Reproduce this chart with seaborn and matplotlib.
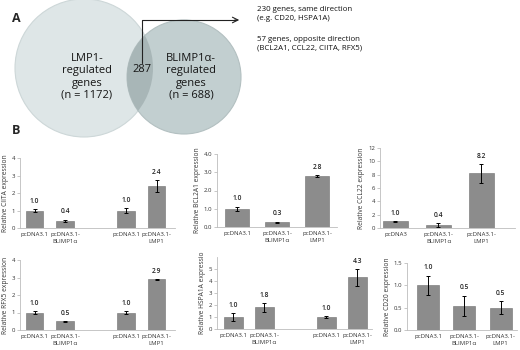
import numpy as np
import pandas as pd
import seaborn as sns
import matplotlib.pyplot as plt
from matplotlib.patches import Circle

sns.set_style("ticks")
plt.rcParams['font.family'] = ['Open Sans', 'DejaVu Sans']

# panel A: Venn counts
venn_left = "LMP1-\nregulated\ngenes\n(n = 1172)"
venn_right = "BLIMP1α-\nregulated\ngenes\n(n = 688)"
venn_overlap = "287"
note_same = "230 genes, same direction\n(e.g. CD20, HSPA1A)"
note_opposite = "57 genes, opposite direction\n(BCL2A1, CCL22, CIITA, RFX5)"

# panel B: relative expression (mean, error)
four_labels = ["pcDNA3.1", "pcDNA3.1-\nBLIMP1α", "", "pcDNA3.1", "pcDNA3.1-\nLMP1"]
three_labels = ["pcDNA3.1", "pcDNA3.1-\nBLIMP1α", "pcDNA3.1-\nLMP1"]
ccl22_labels = ["pcDNA3", "pcDNA3.1-\nBLIMP1α", "pcDNA3.1-\nLMP1"]

ciita_values = [1.0, 0.4, np.nan, 1.0, 2.4]
ciita_errors = [0.1, 0.08, 0, 0.12, 0.35]
bcl2a1_values = [1.0, 0.27, 2.8]
bcl2a1_errors = [0.12, 0.03, 0.05]
ccl22_values = [1.0, 0.4, 8.2]
ccl22_errors = [0.05, 0.3, 1.4]
rfx5_values = [1.0, 0.5, np.nan, 1.0, 2.9]
rfx5_errors = [0.1, 0.03, 0, 0.1, 0.03]
hspa1a_values = [1.0, 1.8, np.nan, 1.0, 4.3]
hspa1a_errors = [0.3, 0.35, 0, 0.05, 0.7]
cd20_values = [1.0, 0.54, 0.5]
cd20_errors = [0.22, 0.23, 0.14]

W, H = 520, 350
fig = plt.figure(figsize=(W / 100, H / 100), dpi=100)

bg = fig.add_axes([0, 0, 1, 1])
bg.set_xlim(0, W)
bg.set_ylim(H, 0)
bg.axis('off')

left_c = Circle((84, 68), 69, facecolor='#dee6e7', edgecolor='#cdd7d8', lw=0.8)
right_c = Circle((184, 77), 57, facecolor='#c2cfd0', edgecolor='#b3c0c1', lw=0.8)
over_c = Circle((184, 77), 57, facecolor='#a8b6b7', edgecolor='none')
bg.add_patch(left_c)
bg.add_patch(right_c)
bg.add_patch(over_c)
over_c.set_clip_path(left_c)

venn_font = dict(fontsize=8, ha='center', va='center', color='#151515',
                 linespacing=1.15, fontweight='medium')
bg.text(87, 77, venn_left, **venn_font)
bg.text(191, 77, venn_right, **venn_font)
bg.text(142, 70, venn_overlap, **venn_font)
bg.plot([142, 142, 236], [63, 20, 20], color='#222222', lw=0.8)
bg.annotate('', xy=(242, 20), xytext=(232, 20),
            arrowprops=dict(arrowstyle='->', color='#222222', lw=0.8))
bg.text(257, 6, note_same, fontsize=5.7, va='top', ha='left', color='#111111', linespacing=1.35)
bg.text(257, 36, note_opposite, fontsize=5.7, va='top', ha='left', color='#111111', linespacing=1.35)
bg.text(12, 18, "A", fontsize=9, fontweight='bold', va='center')
bg.text(12, 130, "B", fontsize=9, fontweight='bold', va='center')


def px_axes(left, right, top, bottom):
    ax = fig.add_axes([left / W, 1 - bottom / H, (right - left) / W, (bottom - top) / H])
    ax.set_facecolor('none')
    return ax


def draw_panel(box, labels, values, errors, ylabel, ymax, yticks, fmt, xlim, width):
    ax = px_axes(*box)
    df = pd.DataFrame({"pos": range(len(values)), "value": values})
    sns.barplot(data=df, x="pos", y="value", order=list(range(len(values))),
                color='#8c8c8c', saturation=1, width=width, errorbar=None,
                edgecolor='#707070', linewidth=0.4, ax=ax)
    vals = np.array(values, dtype=float)
    errs = np.array(errors, dtype=float)
    keep = ~np.isnan(vals)
    pos = np.arange(len(vals))[keep]
    ax.errorbar(pos, vals[keep], yerr=errs[keep], fmt='none', ecolor='black',
                elinewidth=0.7, capsize=1.6, capthick=0.7)
    for p, v, e in zip(pos, vals[keep], errs[keep]):
        ax.annotate(f"{v:.1f}", (p, v + e), xytext=(0, 3), textcoords='offset points',
                    ha='center', va='bottom', fontsize=4.8, color='#222222',
                    fontweight='semibold')
    ax.set_ylim(0, ymax)
    ax.set_xlim(*xlim)
    ax.set_yticks(yticks)
    ax.set_yticklabels([fmt.format(t) for t in yticks])
    ax.set_xticks(range(len(labels)))
    ax.set_xticklabels(labels)
    ax.set_xlabel("")
    ax.set_ylabel(ylabel, fontsize=4.8, color='#333333', labelpad=2)
    ax.tick_params(axis='y', labelsize=4.3, length=2, width=0.5, color='#b0b0b0',
                   pad=1.5, labelcolor='#333333')
    ax.tick_params(axis='x', labelsize=4.3, length=0, pad=3, labelcolor='#333333')
    for lab in ax.get_xticklabels():
        lab.set_linespacing(1.5)
    sns.despine(ax=ax)
    for s in ('left', 'bottom'):
        ax.spines[s].set_color('#bdbdbd')
        ax.spines[s].set_linewidth(0.6)
    return ax


draw_panel((20, 175, 158, 228), four_labels, ciita_values, ciita_errors,
           "Relative CIITA expression", 4, [0, 1, 2, 3, 4], "{:.0f}", (-0.48, 4.6), 0.57)
draw_panel((217, 337, 154, 227), three_labels, bcl2a1_values, bcl2a1_errors,
           "Relative BCL2A1 expression", 4, [0, 1, 2, 3, 4], "{:.1f}", (-0.5, 2.5), 0.6)
draw_panel((380, 515, 148, 228), ccl22_labels, ccl22_values, ccl22_errors,
           "Relative CCL22 expression", 12, [0, 2, 4, 6, 8, 10, 12], "{:.0f}", (-0.36, 2.78), 0.58)
draw_panel((20, 175, 260, 330), four_labels, rfx5_values, rfx5_errors,
           "Relative RFX5 expression", 4, [0, 1, 2, 3, 4], "{:.0f}", (-0.48, 4.6), 0.57)
draw_panel((217, 372, 257, 329), four_labels, hspa1a_values, hspa1a_errors,
           "Relative HSPA1A expressio", 6, [0, 1, 2, 3, 4, 5], "{:.0f}", (-0.53, 4.47), 0.6)
draw_panel((407, 517, 263, 330), three_labels, cd20_values, cd20_errors,
           "Relative CD20 expression", 1.5, [0, 0.5, 1.0, 1.5], "{:.1f}", (-0.58, 2.45), 0.61)

fig.savefig("out.png", dpi=100)
